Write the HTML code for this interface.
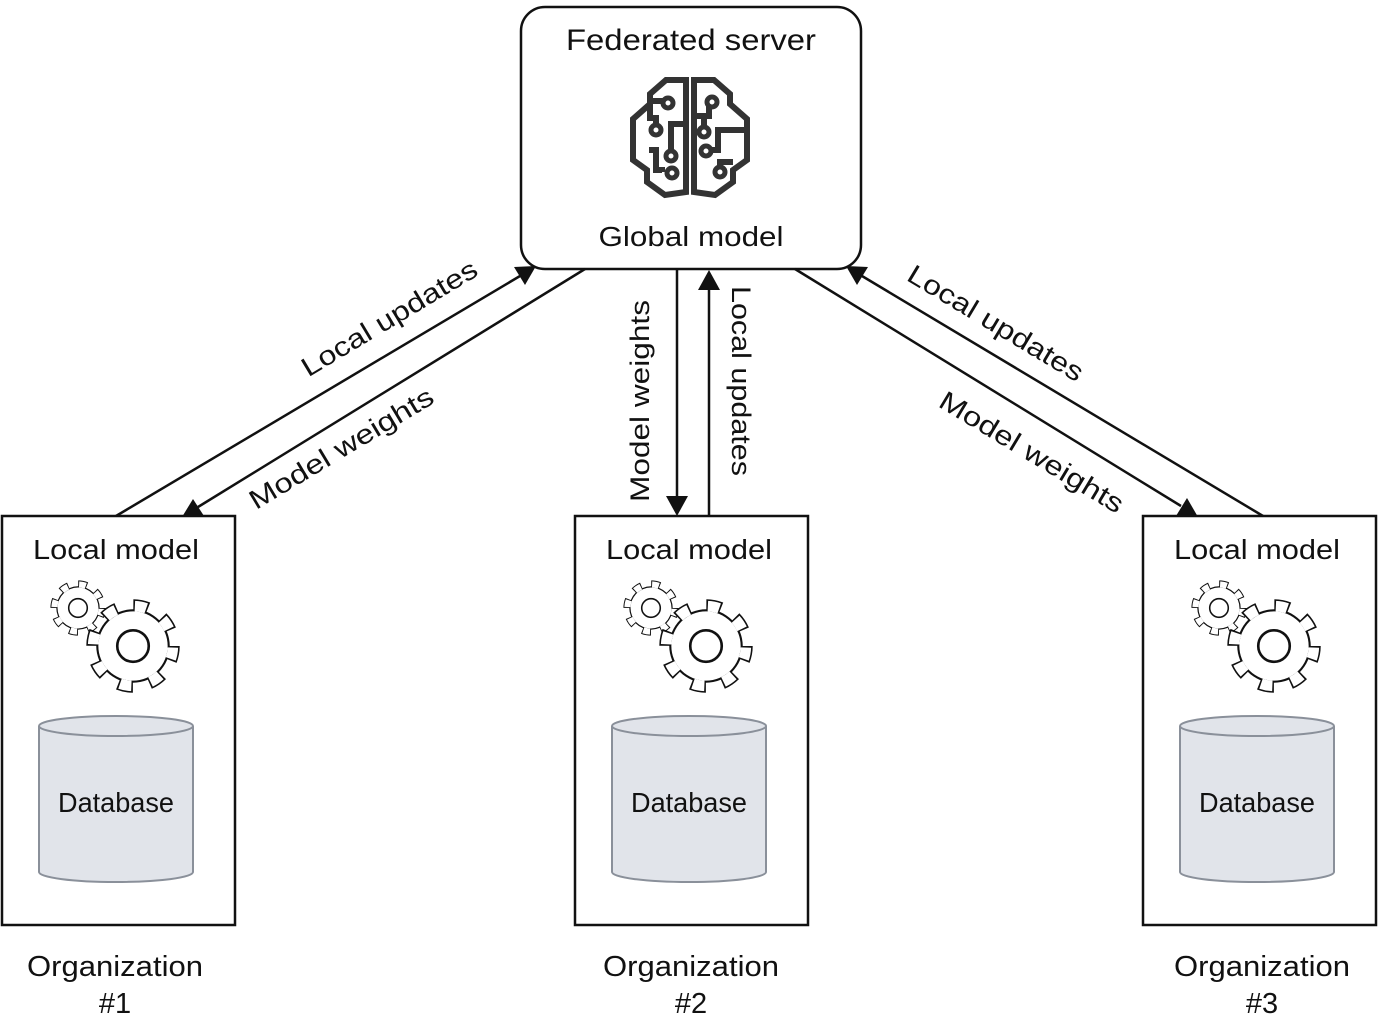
<!DOCTYPE html>
<html><head><meta charset="utf-8"><style>
html,body{margin:0;padding:0;background:#fff;}
svg{display:block;}
text{font-family:"Liberation Sans",sans-serif;fill:#111;}
</style></head><body>
<svg width="1378" height="1021" viewBox="0 0 1378 1021" xmlns="http://www.w3.org/2000/svg">
<defs>
<g id="gear">
  <circle r="38" fill="none" stroke="#111" stroke-width="13" stroke-dasharray="14 15.85"/>
  <circle r="35" fill="#111"/>
  <circle r="38" fill="none" stroke="#fff" stroke-width="10" stroke-dasharray="11 18.85" stroke-dashoffset="-1.5"/>
  <circle r="33" fill="#fff"/>
  <circle r="15" fill="#fff" stroke="#111" stroke-width="2.5"/>
</g>
<g id="org">
  <rect x="0" y="0" width="233" height="409" fill="#fff" stroke="#111" stroke-width="2.5"/>
  <text x="114" y="43" font-size="28" text-anchor="middle" textLength="166" lengthAdjust="spacingAndGlyphs">Local model</text>
  <use href="#gear" transform="translate(76,92) scale(0.62)"/>
  <use href="#gear" transform="translate(131,130) scale(1.05)"/>
  <path d="M37,210 L37,356 A77,10 0 0 0 191,356 L191,210" fill="#e1e4ea" stroke="#8a909a" stroke-width="2"/>
  <ellipse cx="114" cy="210" rx="77" ry="10" fill="#e1e4ea" stroke="#8a909a" stroke-width="2"/>
  <text x="114" y="296" font-size="28" text-anchor="middle" textLength="116" lengthAdjust="spacingAndGlyphs">Database</text>
</g>
</defs>

<!-- server -->
<rect x="521" y="7" width="340" height="262" rx="24" fill="#fff" stroke="#111" stroke-width="2.5"/>
<text x="691" y="50" font-size="30" text-anchor="middle" textLength="250" lengthAdjust="spacingAndGlyphs">Federated server</text>
<text x="691" y="246" font-size="28" text-anchor="middle" textLength="185" lengthAdjust="spacingAndGlyphs">Global model</text>
<g fill="none" stroke="#333" stroke-width="6" stroke-linejoin="miter">
  <path d="M686,80 L666,80 L650,94 L650,104 L633,119 L633,160 L647,170 L647,182 L665,195 L686,192 Z"/>
  <path d="M694,80 L714,80 L730,94 L730,104 L747,119 L747,160 L733,170 L733,182 L715,195 L694,192 Z"/>
  <path d="M650,104 L650,118 L656,118 L656,126 M664,101 L656,101 L656,104"/>
  <path d="M686,124 L671,124 L671,152 M649,150 L656,150 L656,170 L662,170 L662,172"/>
  <path d="M694,116 L709,116 L709,104 M704,128 L704,116 M747,130 L718,130 L718,150 L712,150 M733,162 L720,162 L720,176"/>
</g>
<g fill="#fff" stroke="#333" stroke-width="5">
  <circle cx="668" cy="103" r="5"/><circle cx="656" cy="130" r="5"/><circle cx="671" cy="156" r="5"/><circle cx="672" cy="173" r="5"/>
  <circle cx="712" cy="102" r="5"/><circle cx="704" cy="132" r="5"/><circle cx="706" cy="151" r="5"/><circle cx="720" cy="172" r="5"/>
</g>

<!-- orgs -->
<use href="#org" transform="translate(2,516)"/>
<use href="#org" transform="translate(575,516)"/>
<use href="#org" transform="translate(1143,516)"/>

<g font-size="29" text-anchor="middle">
  <text x="115" y="976" textLength="176" lengthAdjust="spacingAndGlyphs">Organization</text>
  <text x="115" y="1013">#1</text>
  <text x="691" y="976" textLength="176" lengthAdjust="spacingAndGlyphs">Organization</text>
  <text x="691" y="1013">#2</text>
  <text x="1262" y="976" textLength="176" lengthAdjust="spacingAndGlyphs">Organization</text>
  <text x="1262" y="1013">#3</text>
</g>

<!-- connectors -->
<g stroke="#111" stroke-width="2.5" fill="none">
  <line x1="116" y1="516" x2="520" y2="276"/>
  <line x1="585" y1="269" x2="198" y2="507"/>
  <line x1="677" y1="269" x2="677" y2="497"/>
  <line x1="709" y1="516" x2="709" y2="288"/>
  <line x1="1263" y1="516" x2="862" y2="276"/>
  <line x1="795" y1="269" x2="1181" y2="506"/>
</g>
<g fill="#111">
  <polygon points="536,266 514,267 525,285"/>
  <polygon points="182,517 193,499 204,516"/>
  <polygon points="677,516 666,496 688,496"/>
  <polygon points="709,270 698,290 720,290"/>
  <polygon points="846,266 868,267 857,285"/>
  <polygon points="1198,517 1176,516 1187,498"/>
</g>

<g font-size="27" text-anchor="middle">
  <text transform="translate(394,326) rotate(-31)" textLength="200" lengthAdjust="spacingAndGlyphs">Local updates</text>
  <text transform="translate(346,456) rotate(-31)" textLength="210" lengthAdjust="spacingAndGlyphs">Model weights</text>
  <text transform="translate(649,401) rotate(-90)" textLength="202" lengthAdjust="spacingAndGlyphs">Model weights</text>
  <text transform="translate(732,381) rotate(90)" textLength="190" lengthAdjust="spacingAndGlyphs">Local updates</text>
  <text transform="translate(991,331) rotate(31)" textLength="200" lengthAdjust="spacingAndGlyphs">Local updates</text>
  <text transform="translate(1027,460) rotate(31)" textLength="210" lengthAdjust="spacingAndGlyphs">Model weights</text>
</g>
</svg>
</body></html>
